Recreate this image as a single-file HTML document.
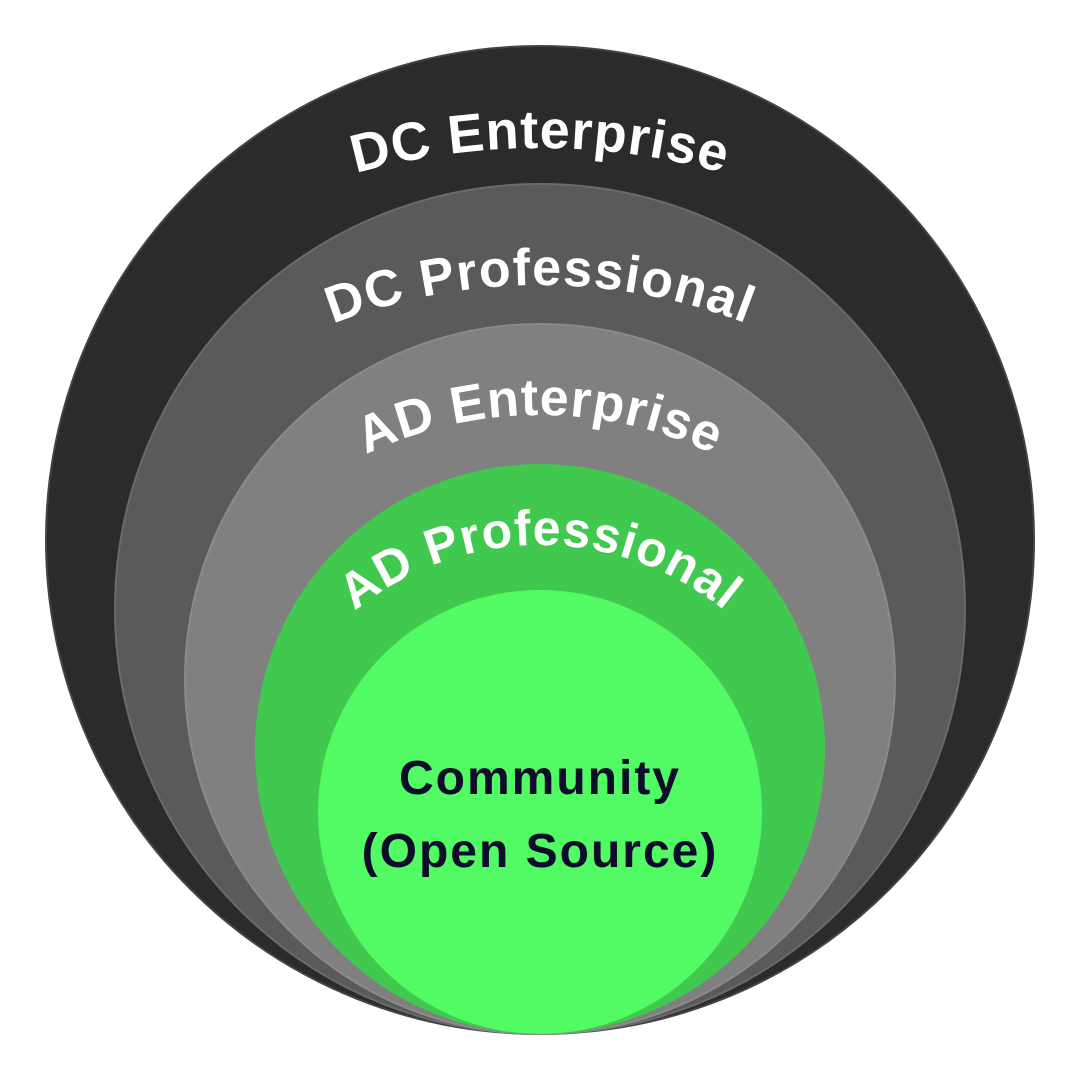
<!DOCTYPE html>
<html><head><meta charset="utf-8"><style>
html,body{margin:0;padding:0;background:#fff;}
svg{display:block;}
text{font-family:"Liberation Sans",sans-serif;font-weight:bold;}
</style></head><body>
<svg width="1080" height="1080" viewBox="0 0 1080 1080" xmlns="http://www.w3.org/2000/svg">
<defs>
<path id="p1" d="M-145,833 A685,685 0 0 1 1225,833"/>
<path id="p2" d="M-31,856 A571,571 0 0 1 1111,856"/>
<path id="p3" d="M137,818 A403,403 0 0 1 943,818"/>
<path id="p4" d="M248,837 A292,292 0 0 1 832,837"/>
</defs>
<circle cx="540" cy="540" r="494" fill="#2b2b2b" stroke="#444" stroke-width="2"/>
<circle cx="540" cy="609" r="425" fill="#5a5a5a" stroke="#6a6a6a" stroke-width="2"/>
<circle cx="540" cy="679" r="355" fill="#808080" stroke="#8a8a8a" stroke-width="2"/>
<circle cx="540" cy="749" r="285" fill="#41c84e"/>
<circle cx="540" cy="812" r="222" fill="#52fb63"/>
<text font-size="54" fill="#fff" text-anchor="middle" letter-spacing="1"><textPath href="#p1" startOffset="50%">DC Enterprise</textPath></text>
<text font-size="52" fill="#fff" text-anchor="middle" letter-spacing="1.5"><textPath href="#p2" startOffset="50%">DC Professional</textPath></text>
<text font-size="52" fill="#fff" text-anchor="middle" letter-spacing="1"><textPath href="#p3" startOffset="50%">AD Enterprise</textPath></text>
<text font-size="50" fill="#fff" text-anchor="middle" letter-spacing="1"><textPath href="#p4" startOffset="50%">AD Professional</textPath></text>
<text x="540" y="794" font-size="48" fill="#0d0d2b" text-anchor="middle" letter-spacing="2">Community</text>
<text x="540" y="867" font-size="48" fill="#0d0d2b" text-anchor="middle" letter-spacing="2">(Open Source)</text>
</svg>
</body></html>
